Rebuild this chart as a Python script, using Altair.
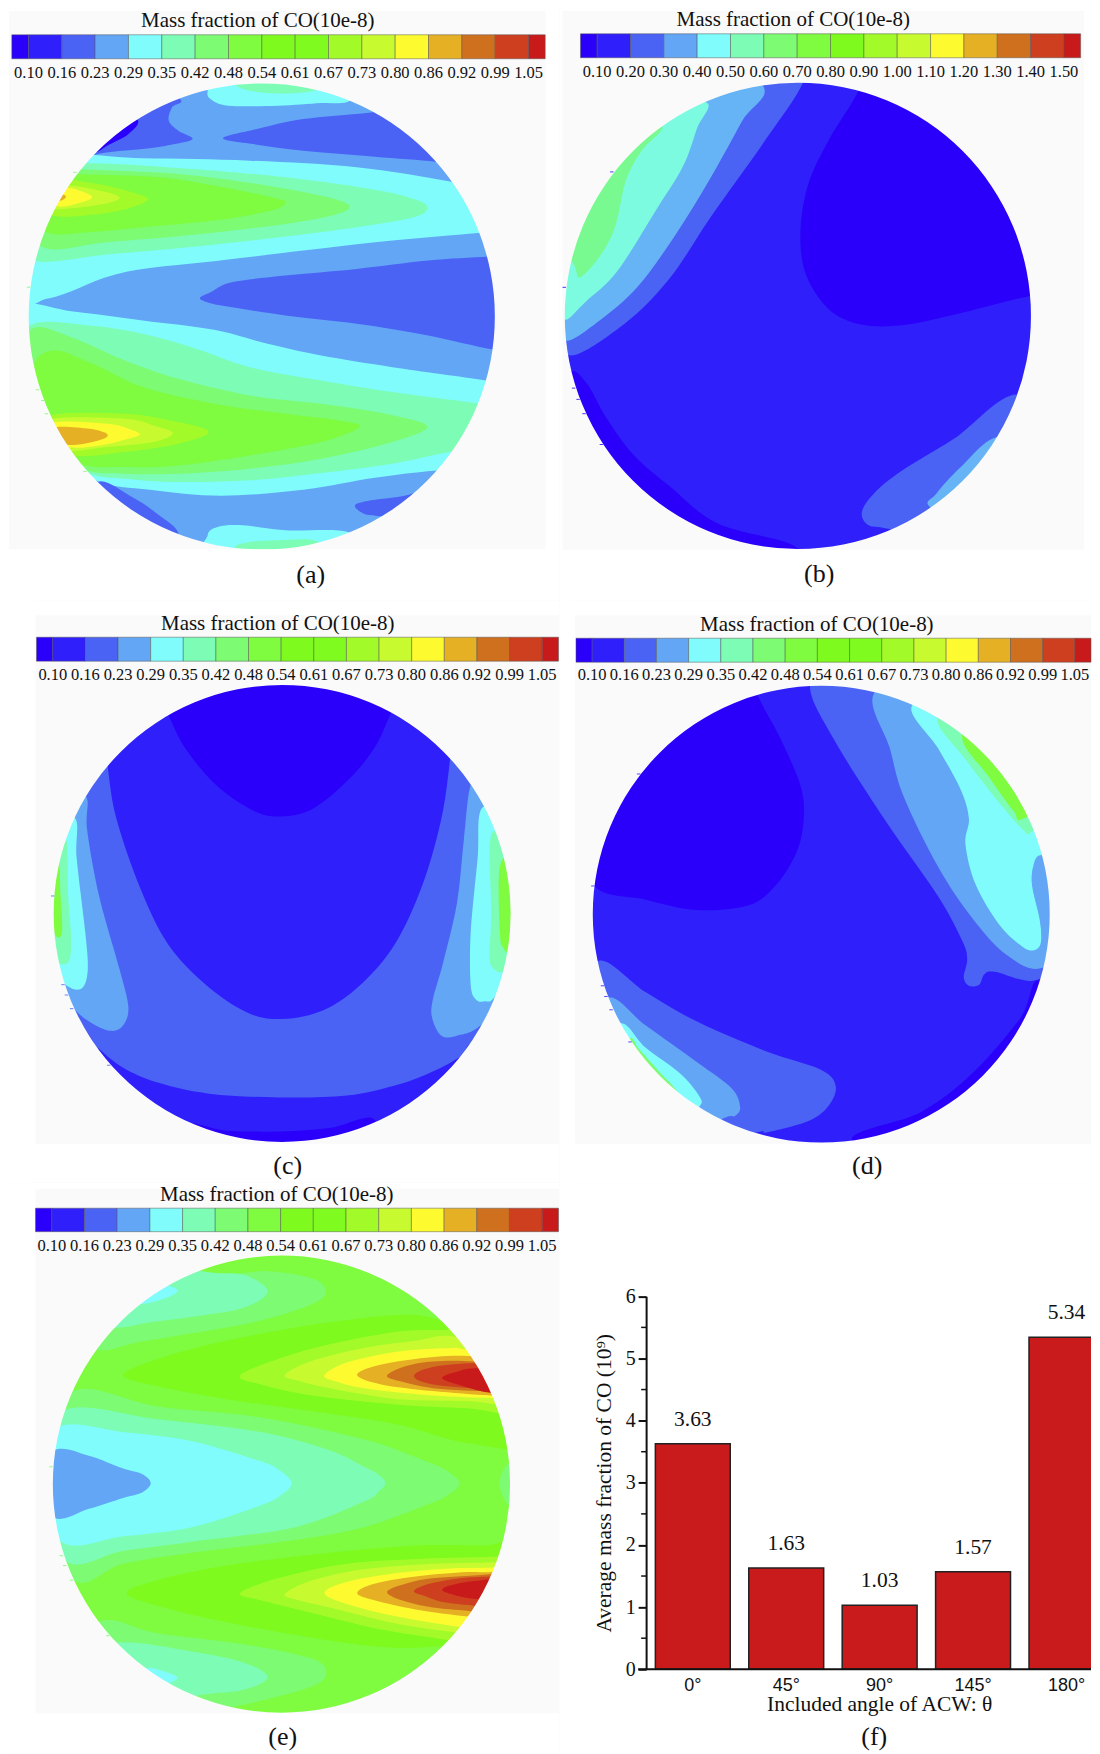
import math
import altair as alt
import pandas as pd

TITLE = "Mass fraction of CO(10e-8)"
SERIF = "Liberation Serif"
BG = "#fafafa"
LEVEL_COLORS = ["#2a00fa", "#2e1ffb", "#4a63f5", "#62a6f5", "#80fcfd", "#7dfcb5", "#7dfb72", "#7ffb40", "#7efa1e",
                "#80fb20", "#a2fb28", "#c8fa30", "#fdfb30", "#e6b025", "#cf701f", "#cd3f1e", "#c81a1a"]
PANEL_B_COLORS = {17: "#66b4f6", 18: "#7cfbe0", 19: "#78fa90"}
TICKS_A = ["0.10", "0.16", "0.23", "0.29", "0.35", "0.42", "0.48", "0.54", "0.61", "0.67", "0.73", "0.80", "0.86", "0.92", "0.99", "1.05"]
TICKS_B = ["0.10", "0.20", "0.30", "0.40", "0.50", "0.60", "0.70", "0.80", "0.90", "1.00", "1.10", "1.20", "1.30", "1.40", "1.50"]
ANGLES = ["0°", "45°", "90°", "145°", "180°"]
AVERAGES = [3.63, 1.63, 1.03, 1.57, 5.34]
MINOR = [0.5, 1.5, 2.5, 3.5, 4.5, 5.5]

REGIONS_A = [
    (2, [(505,85),(482,110),(473,150),(500,180),(540,205),(480,222),(400,235),(265,252),(150,300),(150,20),(400,20)]),
    (0, [(385,145),(360,190),(300,225),(265,245),(200,240),(300,100)]),
    (4, [(582,60),(590,85),(640,105),(780,105),(900,97),(980,90),(1000,20),(600,10)]),
    (5, [(660,40),(700,60),(790,68),(880,60),(900,30),(700,20)]),
    (2, [(625,203),(720,175),(850,145),(1040,125),(1250,100),(1300,290),(1220,273),(1050,258),(850,240),(720,222)]),
    (4, [(150,262),(400,263),(700,270),(1000,290),(1265,333),(1500,380),(1500,470),(1340,487),(1100,510),(850,540),(600,572),(400,595),(290,622),(200,662),(130,685),(50,690),(50,400)]),
    (5, [(230,278),(500,292),(800,320),(1050,357),(1160,385),(1198,410),(1160,440),(1000,470),(800,498),(550,528),(300,552),(105,572),(40,500),(100,300)]),
    (6, [(220,295),(500,310),(750,345),(920,380),(980,408),(930,435),(800,460),(550,492),(300,515),(120,530),(50,400),(150,280)]),
    (7, [(215,310),(450,320),(650,355),(760,380),(800,395),(760,420),(600,450),(400,470),(250,485),(130,485),(60,400),(160,300)]),
    (10, [(190,325),(300,345),(370,365),(415,385),(370,410),(280,430),(145,435),(100,380),(160,320)]),
    (11, [(180,345),(280,360),(335,380),(290,400),(150,415),(120,380)]),
    (12, [(185,352),(235,365),(258,380),(230,395),(165,408),(130,380)]),
    (13, [(170,370),(185,378),(170,390),(150,380)]),
    (2, [(560,683),(590,665),(650,635),(800,615),(1000,595),(1200,570),(1370,558),(1500,550),(1500,850),(1385,838),(1200,795),(1000,760),(800,735),(650,710),(590,698)]),
    (4, [(60,712),(200,722),(400,750),(600,778),(750,820),(900,855),(1100,890),(1362,930),(1500,960),(1500,1180),(1225,1200),(1050,1222),(850,1258),(620,1276),(420,1258),(265,1228),(100,1100),(40,900)]),
    (5, [(85,765),(250,765),(400,790),(550,835),(700,890),(900,930),(1100,965),(1342,1000),(1500,1030),(1400,1130),(1260,1145),(1100,1180),(900,1208),(700,1230),(500,1235),(350,1225),(240,1205),(100,1100),(50,900)]),
    (6, [(90,775),(200,800),(350,870),(500,925),(700,975),(900,1000),(1080,1030),(1198,1068),(1100,1115),(900,1165),(700,1195),(500,1210),(350,1210),(230,1195),(100,1100),(50,900)]),
    (7, [(150,840),(260,880),(400,950),(600,1000),(800,1030),(950,1050),(1008,1070),(900,1115),(700,1155),(500,1185),(350,1190),(220,1180),(100,1100),(90,900)]),
    (10, [(140,1035),(350,1030),(500,1055),(585,1085),(500,1120),(350,1145),(200,1155),(100,1100)]),
    (11, [(150,1045),(350,1045),(430,1065),(485,1088),(430,1115),(300,1130),(180,1140),(120,1090)]),
    (12, [(155,1055),(300,1060),(360,1075),(392,1092),(360,1105),(280,1125),(190,1130),(130,1090)]),
    (13, [(160,1070),(250,1075),(290,1085),(302,1095),(290,1105),(250,1117),(190,1123),(130,1095)]),
    (2, [(995,1305),(1040,1290),(1160,1268),(1250,1200),(1250,1360),(1070,1338),(1020,1330)]),
    (2, [(275,1235),(370,1280),(440,1330),(500,1390),(450,1450),(250,1350)]),
    (4, [(582,1395),(610,1370),(680,1365),(800,1380),(975,1385),(1000,1450),(600,1460)]),
    (5, [(660,1430),(700,1415),(780,1410),(880,1410),(900,1450),(700,1460)]),
]

REGIONS_B = [
    (0, [(875,240),(790,370),(730,490),(708,620),(725,730),(790,820),(880,860),(1000,863),(1150,835),(1368,785),(1500,770),(1500,200),(900,150)]),
    (0, [(50,985),(95,1020),(150,1110),(230,1210),(330,1290),(470,1390),(700,1457),(600,1550),(100,1300),(28,1050)]),
    (2, [(715,218),(600,380),(450,575),(330,740),(200,860),(40,942),(28,800),(42,650),(110,480),(250,300),(400,100),(700,150)]),
    (17, [(600,225),(540,320),(450,470),(350,620),(240,760),(130,850),(30,903),(28,800),(42,650),(110,480),(250,300),(400,120)]),
    (18, [(435,270),(410,340),(370,440),(290,560),(180,720),(90,800),(30,848),(28,780),(42,650),(110,480),(250,300)]),
    (19, [(310,335),(250,400),(205,480),(175,600),(130,680),(75,735),(60,710),(40,650),(50,500),(200,330)]),
    (2, [(1335,1047),(1150,1165),(1000,1250),(920,1310),(885,1360),(905,1395),(965,1405),(1200,1450),(1450,1200)]),
    (17, [(1275,1160),(1170,1240),(1100,1310),(1080,1345),(1200,1400),(1400,1200)]),
]

REGIONS_C = [
    (1, [(245,350),(255,450),(280,590),(350,780),(430,930),(540,1040),(660,1115),(760,1133),(880,1110),(990,1040),(1090,930),(1170,770),(1225,590),(1250,430),(1258,330),(1250,100),(255,100)]),
    (0, [(390,230),(432,312),(480,400),(570,500),(680,570),(760,585),(850,565),(950,490),(1030,400),(1078,305),(1115,230),(1100,100),(400,100)]),
    (1, [(180,1170),(225,1210),(300,1265),(400,1305),(550,1335),(750,1345),(950,1340),(1100,1310),(1200,1275),(1280,1235),(1325,1200),(1450,1300),(1200,1540),(300,1540),(100,1300)]),
    (0, [(470,1420),(600,1435),(760,1437),(900,1428),(1030,1405),(1000,1550),(500,1550)]),
    (3, [(192,530),(195,620),(230,800),(290,1000),(315,1100),(300,1150),(265,1165),(210,1145),(150,1100),(60,1000),(40,700),(120,500)]),
    (4, [(160,590),(165,700),(190,900),(197,1000),(180,1050),(140,1045),(100,1000),(50,900),(80,600)]),
    (5, [(135,650),(140,800),(148,900),(145,970),(120,985),(90,950),(70,800),(100,680)]),
    (7, [(112,700),(118,800),(122,900),(100,900),(80,800),(95,720)]),
    (3, [(1310,500),(1290,650),(1270,820),(1230,980),(1200,1080),(1198,1130),(1225,1178),(1270,1178),(1345,1145),(1480,1000),(1480,600),(1350,480)]),
    (4, [(1345,560),(1330,700),(1310,900),(1310,1040),(1325,1080),(1350,1085),(1385,1065),(1470,900),(1450,600)]),
    (5, [(1372,630),(1370,850),(1365,960),(1375,995),(1410,1000),(1470,900),(1460,700)]),
    (7, [(1395,720),(1395,900),(1405,940),(1425,945),(1470,850),(1440,700)]),
]

REGIONS_D = [
    (0, [(578,262),(640,370),(700,500),(710,590),(690,680),(630,770),(550,825),(400,838),(250,810),(100,772),(50,600),(100,100),(500,100)]),
    (0, [(850,1460),(1050,1385),(1200,1280),(1340,1130),(1395,1030),(1500,1200),(1100,1550)]),
    (2, [(728,232),(800,380),(950,600),(1100,800),(1170,920),(1185,970),(1175,1020),(1190,1043),(1220,1040),(1235,1012),(1265,1005),(1395,1025),(1500,900),(1500,500),(1100,150),(800,150)]),
    (3, [(915,250),(960,400),(1000,530),(1100,720),(1200,860),(1300,960),(1400,995),(1500,900),(1500,500),(1100,180)]),
    (4, [(1025,285),(1100,400),(1165,510),(1190,590),(1180,660),(1210,770),(1280,880),(1350,940),(1385,945),(1400,920),(1395,850),(1375,780),(1375,730),(1400,690),(1500,500),(1200,250)]),
    (3, [(1400,690),(1375,730),(1378,790),(1395,860),(1402,915),(1400,960),(1450,950),(1480,750)]),
    (5, [(1100,320),(1180,430),(1280,550),(1345,618),(1378,622),(1500,500),(1250,300)]),
    (7, [(1170,370),(1250,480),(1320,570),(1350,590),(1500,500),(1250,300)]),
    (2, [(115,975),(250,1060),(400,1140),(600,1220),(760,1270),(803,1315),(780,1370),(720,1410),(600,1440),(570,1440),(300,1500),(50,1100)]),
    (3, [(140,1075),(250,1150),(400,1250),(500,1320),(525,1370),(510,1395),(470,1405),(300,1500),(60,1200)]),
    (4, [(175,1145),(250,1210),(350,1280),(405,1340),(408,1368),(350,1400),(200,1350),(100,1250)]),
    (6, [(205,1185),(232,1215),(285,1270),(342,1332),(287,1340),(178,1260)]),
]

REGIONS_E = [
    (6, [(520,250),(720,250),(850,270),(890,305),(850,340),(700,385),(500,420),(340,445),(220,465),(60,400),(300,100)]),
    (5, [(530,250),(650,260),(720,305),(650,350),(500,375),(380,390),(280,405),(150,400),(300,200)]),
    (4, [(430,290),(458,305),(420,325),(355,340),(320,330),(350,280)]),
    (6, [(150,580),(400,620),(700,650),(1000,710),(1180,770),(1240,795),(1278,830),(1240,865),(1180,890),(1000,950),(800,985),(500,1020),(300,1050),(150,1090),(50,800)]),
    (5, [(130,630),(400,655),(700,690),(900,740),(1000,785),(1040,805),(1062,830),(1040,855),(1000,880),(800,950),(500,990),(300,1015),(130,1040),(50,800)]),
    (4, [(115,675),(300,690),(500,715),(700,770),(755,795),(790,830),(755,865),(700,890),(500,950),(300,975),(120,990),(40,800)]),
    (3, [(100,740),(200,755),(300,790),(355,805),(380,830),(355,855),(300,870),(200,900),(100,925),(30,830)]),
    (6, [(1425,775),(1397,810),(1397,850),(1425,890),(1460,830)]),
    (8, [(300,535),(400,490),(600,440),(900,390),(1150,370),(1300,420),(1500,500),(1500,720),(1300,720),(1100,670),(900,640),(600,600),(400,565)]),
    (10, [(640,535),(750,490),(900,450),(1100,415),(1240,410),(1300,400),(1500,500),(1500,640),(1300,625),(1100,615),(850,590),(700,560)]),
    (11, [(770,533),(850,495),(1000,460),(1150,440),(1270,430),(1500,500),(1500,615),(1300,605),(1100,600),(900,570),(810,550)]),
    (12, [(885,535),(950,500),(1100,470),(1250,460),(1300,465),(1500,500),(1500,600),(1380,597),(1200,590),(1000,570),(920,552)]),
    (13, [(980,535),(1030,510),(1150,490),(1300,482),(1500,500),(1500,590),(1370,590),(1200,578),(1050,560)]),
    (14, [(1067,535),(1120,510),(1200,497),(1320,497),(1500,520),(1500,580),(1350,578),(1200,570),(1100,550)]),
    (15, [(1145,537),(1200,512),(1340,502),(1500,520),(1500,575),(1360,572),(1200,560)]),
    (16, [(1227,543),(1270,525),(1335,515),(1500,520),(1500,585),(1370,583),(1290,565)]),
    (8, [(310,1130),(400,1095),(600,1055),(900,1020),(1150,1000),(1350,1000),(1500,1000),(1500,1300),(1300,1275),(1100,1280),(900,1260),(600,1210),(400,1165)]),
    (10, [(640,1130),(750,1090),(950,1050),(1200,1035),(1390,1030),(1500,1020),(1500,1300),(1250,1260),(1050,1230),(850,1185),(700,1150)]),
    (11, [(770,1133),(850,1095),(1000,1065),(1200,1050),(1385,1045),(1500,1030),(1500,1260),(1290,1240),(1100,1215),(900,1170),(810,1150)]),
    (12, [(885,1130),(950,1100),(1100,1075),(1250,1063),(1380,1060),(1500,1040),(1500,1240),(1300,1225),(1100,1195),(950,1160)]),
    (13, [(980,1130),(1030,1105),(1150,1085),(1300,1073),(1375,1072),(1500,1050),(1500,1210),(1310,1195),(1150,1175),(1030,1150)]),
    (14, [(1067,1127),(1120,1105),(1200,1090),(1370,1078),(1500,1060),(1500,1200),(1310,1180),(1200,1170),(1110,1150)]),
    (15, [(1145,1125),(1190,1105),(1280,1090),(1370,1085),(1500,1080),(1500,1180),(1320,1165),(1230,1155),(1180,1140)]),
    (16, [(1227,1122),(1270,1105),(1370,1092),(1500,1080),(1500,1160),(1340,1148),(1280,1140)]),
    (6, [(240,1205),(400,1240),(650,1270),(850,1310),(890,1350),(850,1385),(700,1425),(600,1445),(300,1500),(150,1300)]),
    (5, [(300,1265),(500,1290),(650,1320),(720,1360),(650,1395),(520,1410),(300,1450),(200,1300)]),
    (4, [(370,1335),(420,1345),(458,1362),(425,1380),(380,1400),(330,1360)]),
]

PANELS = {
    "a": dict(base=3, regions=REGIONS_A, conv=(0, 2.8, 70, 3.0), circle=(262, 316, 233.3), bg=(9, 546, 10, 549), bar=(11.8, 545.7, 34, 58),
              ticks=TICKS_A, tick_y=72, title=(258, 20.7), cap=("(a)", 311, 575), cell=(8, 560, 8, 600),
              marks=[(210,305),(80,650),(105,958),(120,990),(130,1030),(238,1203)], mark_color="#7dfb72"),
    "b": dict(base=1, regions=REGIONS_B, conv=(555, 2.877, 0, 2.657), circle=(798.6, 315.4, 233.3), bg=(563, 1085, 10, 549.5), bar=(581, 1081.6, 33, 57),
              ticks=TICKS_B, tick_y=71.5, title=(794, 19.6), cap=("(b)", 820, 574), cell=(560, 1092, 8, 600),
              marks=[(165,455),(28,762),(55,1030),(68,1060),(85,1098),(135,1180)], mark_color="#2a00fa"),
    "c": dict(base=2, regions=REGIONS_C, conv=(20, 2.904, 600, 2.703), circle=(282.4, 913.5, 228.7), bg=(35.5, 560, 615, 1144), bar=(36.5, 559, 637, 661),
              ticks=TICKS_A, tick_y=675, title=(278, 624), cap=("(c)", 288, 1166), cell=(8, 560, 600, 1183),
              marks=[(95,800),(125,1040),(135,1068),(150,1105),(258,1258)], mark_color="#4a63f5"),
    "d": dict(base=1, regions=REGIONS_D, conv=(560, 2.904, 600, 2.703), circle=(822, 914.2, 228.6), bg=(575.5, 1092, 615, 1144), bar=(576.5, 1092, 638, 662),
              ticks=TICKS_A, tick_y=675, title=(817.6, 625), cap=("(d)", 868, 1166), cell=(560, 1092, 600, 1183),
              marks=[(230,470),(97,773),(125,1043),(135,1072),(150,1108),(205,1195)], mark_color="#2e1ffb"),
    "e": dict(base=7, regions=REGIONS_E, conv=(20, 2.904, 1180, 2.732), circle=(281.7, 1484.7, 228.8), bg=(35.5, 560, 1189, 1714), bar=(35.5, 559, 1208.5, 1232),
              ticks=TICKS_A, tick_y=1246, title=(277, 1195), cap=("(e)", 283, 1738), cell=(8, 560, 1183, 1754),
              marks=[(90,785),(120,1028),(130,1055),(150,1095),(255,1247)], mark_color="#7dfb72"),
}


def level_color(lev):
    return PANEL_B_COLORS[lev] if lev in PANEL_B_COLORS else LEVEL_COLORS[lev]


def panel(p):
    cx0, cx1, cy0, cy1 = p["cell"]
    x0, fx, y0, fy = p["conv"]
    w, h = cx1 - cx0, cy1 - cy0
    sx = alt.Scale(domain=[cx0, cx1], nice=False, zero=False)
    sy = alt.Scale(domain=[cy1, cy0], nice=False, zero=False)
    X = lambda f: alt.X(f + ":Q", scale=sx, axis=None)
    Y = lambda f: alt.Y(f + ":Q", scale=sy, axis=None)
    ccx, ccy, R = p["circle"]

    rows = []
    for i in range(16):
        ang = i * math.pi / 8
        rows.append(dict(region=0, i=i, x=ccx + 1.015 * R * math.cos(ang), y=ccy + 1.015 * R * math.sin(ang), c=LEVEL_COLORS[p["base"]]))
    for rid, (lev, pts) in enumerate(p["regions"], start=1):
        for i, (zx, zy) in enumerate(pts):
            rows.append(dict(region=rid, i=i, x=x0 + zx / fx, y=y0 + zy / fy, c=level_color(lev)))
    contours = alt.Chart(pd.DataFrame(rows)).mark_line(filled=True, interpolate="cardinal-closed", clip=True, strokeWidth=0).encode(
        x=X("x"), y=Y("y"), color=alt.Color("c:N", scale=None),
        detail="region:N", order="i:Q")

    mask = alt.Chart(pd.DataFrame({"a": [0]})).mark_arc(innerRadius=R, outerRadius=560, theta=0, theta2=6.2832, color=BG, clip=True).encode(
        x=alt.value(ccx - cx0), y=alt.value(ccy - cy0))

    bx0, bx1, by0, by1 = p["bg"]
    frame = pd.DataFrame([
        dict(x=cx0, x2=bx0, y=cy0, y2=cy1), dict(x=bx1, x2=cx1, y=cy0, y2=cy1),
        dict(x=cx0, x2=cx1, y=cy0, y2=by0), dict(x=cx0, x2=cx1, y=by1, y2=cy1)])
    frames = alt.Chart(frame).mark_rect(color="white", clip=True).encode(x=X("x"), x2="x2:Q", y=Y("y"), y2="y2:Q")

    edge = pd.DataFrame([dict(x=x0 + a / fx, y=y0 + b / fy) for a, b in p["marks"]])
    edges = alt.Chart(edge).mark_point(shape="stroke", size=12, strokeWidth=1, color=p["mark_color"], opacity=0.8).encode(x=X("x"), y=Y("y"))

    x_a, x_b, y_a, y_b = p["bar"]
    n = len(p["ticks"])
    step = (x_b - x_a) / n
    palette = LEVEL_COLORS if n == 16 else LEVEL_COLORS[:9] + LEVEL_COLORS[10:]
    cells = []
    edges_x = [x_a] + [x_a + step * (i + 0.5) for i in range(n)] + [x_b]
    for i in range(n + 1):
        cells.append(dict(x=edges_x[i], x2=edges_x[i + 1], y=y_a, y2=y_b, c=palette[i]))
    bar = alt.Chart(pd.DataFrame(cells)).mark_rect(stroke="#555555", strokeWidth=0.5).encode(
        x=X("x"), x2="x2:Q", y=Y("y"), y2="y2:Q", color=alt.Color("c:N", scale=None))

    tick_df = pd.DataFrame([dict(x=x_a + step * (i + 0.5), y=p["tick_y"], t=t) for i, t in enumerate(p["ticks"])])
    ticks = alt.Chart(tick_df).mark_text(font=SERIF, fontSize=16.5, color="#111111").encode(x=X("x"), y=Y("y"), text="t:N")

    tx, ty = p["title"]
    cap, capx, capy = p["cap"]
    text_df = pd.DataFrame([dict(x=tx, y=ty, t=TITLE, s=21), dict(x=capx, y=capy, t=cap, s=26)])
    texts = alt.Chart(text_df).mark_text(font=SERIF, color="#111111").encode(
        x=X("x"), y=Y("y"), text="t:N", size=alt.Size("s:Q", scale=None, legend=None))
    return alt.layer(contours, mask, frames, edges, bar, ticks, texts).properties(width=w, height=h)


def bar_panel():
    W, H, STEP = 532, 571, 93.5
    AX_X = 646.7 - 560
    Y0, Y6 = 1670 - 1183, 1296.7 - 1183
    df = pd.DataFrame({"angle": ANGLES, "avg": AVERAGES})
    x = alt.X("angle:N", sort=ANGLES,
              scale=alt.Scale(range=[AX_X, AX_X + STEP * 5], paddingInner=0.198, paddingOuter=0.099),
              axis=alt.Axis(title="Included angle of ACW: θ", domain=False, ticks=False, labelAngle=0, offset=Y0 - H,
                            labelFont="Liberation Sans", labelFontSize=18, labelColor="#111111", labelPadding=7,
                            titleFont=SERIF, titleFontSize=21.5, titleFontWeight="normal", titleColor="#111111", titleY=24, titleX=880 - 560))
    y = alt.Y("avg:Q", scale=alt.Scale(domain=[0, 6], nice=False, range=[Y0, Y6]),
              axis=alt.Axis(title="Average mass fraction of CO (10⁹)", values=[0, 1, 2, 3, 4, 5, 6], grid=False, format="d", offset=-AX_X,
                            domainColor="#111111", domainWidth=2, tickColor="#111111", tickWidth=2, tickSize=8,
                            labelFont=SERIF, labelFontSize=20, labelColor="#111111", labelPadding=3,
                            titleFont=SERIF, titleFontSize=21.5, titleFontWeight="normal", titleColor="#111111", titleX=-31, titleY=(Y0 + Y6) / 2))
    bars = alt.Chart(df).mark_bar(color="#c91a1c", stroke="#222222", strokeWidth=1.5, clip=True, width=75).encode(x=x, y=y)
    labels = alt.Chart(df).mark_text(font=SERIF, fontSize=21.5, dy=-24, color="#111111").encode(
        x=alt.X("angle:N", sort=ANGLES), y=alt.Y("avg:Q"), text=alt.Text("avg:Q", format=".2f"))
    minor = alt.Chart(pd.DataFrame({"m": MINOR})).mark_rule(color="#111111", strokeWidth=1.5).encode(
        y=alt.Y("m:Q"), x=alt.value(AX_X - 5), x2=alt.value(AX_X))
    base = alt.Chart(pd.DataFrame({"z": [0]})).mark_rule(color="#111111", strokeWidth=2).encode(
        y=alt.Y("z:Q"), x=alt.value(AX_X - 8), x2=alt.value(W))
    cap = alt.Chart(pd.DataFrame({"t": ["(f)"]})).mark_text(font=SERIF, fontSize=26, color="#111111").encode(
        text="t:N", x=alt.value(875 - 560), y=alt.value(1738 - 1183))
    return alt.layer(bars, labels, minor, base, cap).properties(width=W, height=H)


chart = alt.concat(panel(PANELS["a"]), panel(PANELS["b"]), panel(PANELS["c"]), panel(PANELS["d"]), panel(PANELS["e"]), bar_panel(),
                   columns=2, spacing=0, bounds="flush").properties(padding=0).configure_view(stroke=None)
chart.save("out.html", embed_options={"renderer": "svg", "actions": False})
